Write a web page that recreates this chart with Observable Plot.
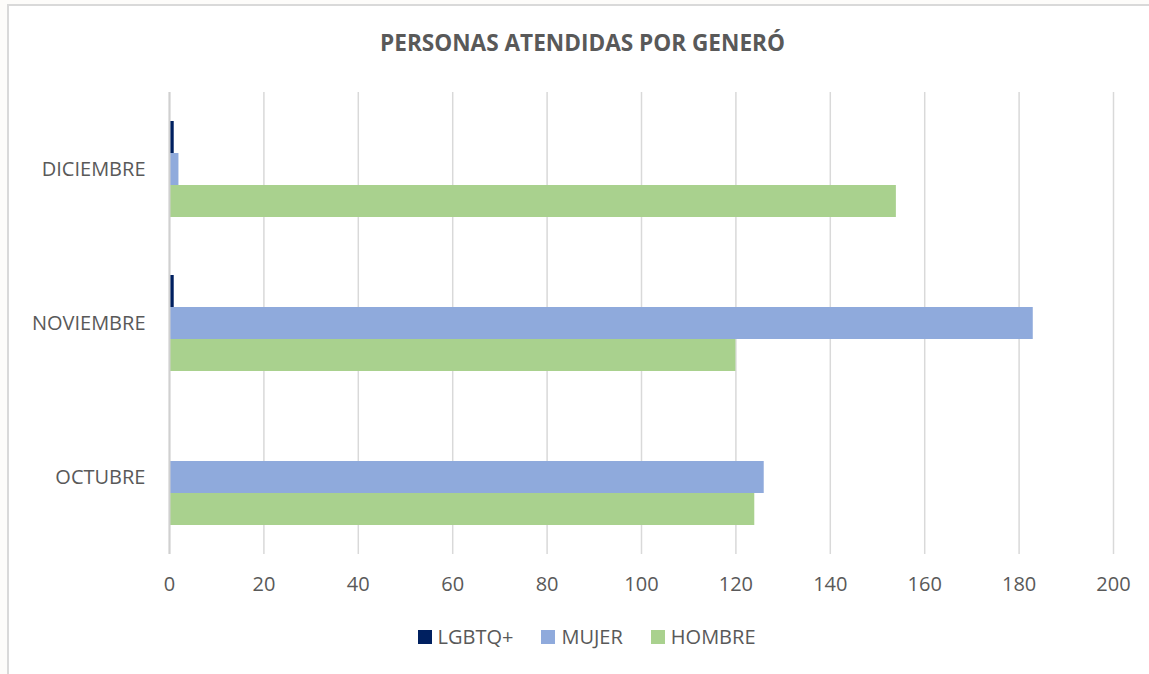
<!DOCTYPE html>
<html>
<head>
<meta charset="utf-8">
<script src="https://cdn.jsdelivr.net/npm/d3@7"></script>
<script src="https://cdn.jsdelivr.net/npm/@observablehq/plot@0.6"></script>
<style>
  html, body { margin: 0; padding: 0; background: #fdfcfa; }
  #page { position: relative; width: 1149px; height: 674px; overflow: hidden; background: #fdfcfa; }
  #frame { position: absolute; left: 7px; top: 4px; width: 1160px; height: 700px; background: #ffffff; border-left: 2px solid #d9d9d9; border-top: 2px solid #d9d9d9; box-sizing: border-box; }
  #title { position: absolute; left: 8px; width: 1149px; top: 27px; text-align: center; font-family: "Open Sans", sans-serif; font-weight: bold; font-size: 22.6px; color: #595959; }
  #chart { position: absolute; left: 0; top: 80px; }
  #legend { position: absolute; top: 623px; left: 12px; width: 1149px; display: flex; justify-content: center; gap: 28px; font-family: "Open Sans", sans-serif; font-size: 20px; color: #595959; }
  .item { display: flex; align-items: center; gap: 6px; }
  .sw { width: 14px; height: 14px; display: inline-block; }
</style>
</head>
<body>
<div id="page">
  <div id="frame"></div>
  <div id="title">PERSONAS ATENDIDAS POR GENERÓ</div>
  <div id="chart"></div>
  <div id="legend"></div>
</div>
<script>
const months = ["DICIEMBRE", "NOVIEMBRE", "OCTUBRE"];
const series = ["LGBTQ+", "MUJER", "HOMBRE"];
const colors = ["#002060", "#8faadc", "#a9d18e"];
const lgbtq  = [1, 1, 0];
const mujer  = [2, 183, 126];
const hombre = [154, 120, 124];
const xTicks = [0, 20, 40, 60, 80, 100, 120, 140, 160, 180, 200];

const values = [lgbtq, mujer, hombre];
const data = [];
months.forEach((m, i) => series.forEach((s, j) => data.push({month: m, series: s, value: values[j][i]})));

const chart = Plot.plot({
  width: 1149,
  height: 530,
  marginLeft: 169,
  marginRight: 36,
  marginTop: 11,
  marginBottom: 55,
  style: {fontFamily: "'Open Sans', sans-serif", fontSize: "20px", color: "#595959", background: "transparent", overflow: "visible"},
  x: {domain: [0, 200], ticks: xTicks, label: null, tickSize: 0, tickPadding: 22},
  y: {domain: series, axis: null, paddingInner: 0, paddingOuter: 0.85},
  fy: {domain: months, padding: 0, label: null, tickSize: 0, tickPadding: 24},
  color: {domain: series, range: colors},
  marks: [
    Plot.ruleX(xTicks, {stroke: "#d9d9d9", strokeWidth: 1.5, strokeOpacity: 1}),
    Plot.barX(data, {x: "value", y: "series", fy: "month", fill: "series", insetTop: 0, insetBottom: 0}),
    Plot.ruleX([0], {stroke: "#d0d0d0", strokeWidth: 2})
  ]
});
document.getElementById("chart").appendChild(chart);

const legend = document.getElementById("legend");
series.forEach((s, i) => {
  const it = document.createElement("div");
  it.className = "item";
  const sw = document.createElement("span");
  sw.className = "sw";
  sw.style.background = colors[i];
  const t = document.createElement("span");
  t.textContent = s;
  it.appendChild(sw); it.appendChild(t);
  legend.appendChild(it);
});
</script>
</body>
</html>
